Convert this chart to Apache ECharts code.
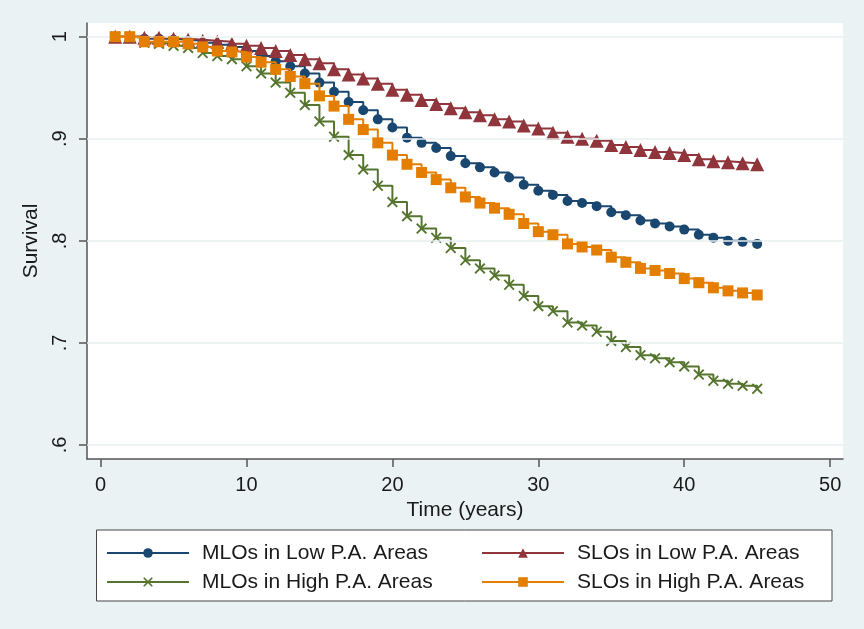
<!DOCTYPE html>
<html>
<head>
<meta charset="utf-8">
<script src="https://cdn.jsdelivr.net/npm/echarts@6/dist/echarts.min.js"></script>
<style>html,body{margin:0;padding:0;background:#eaf2f3}#c{width:864px;height:629px}</style>
</head>
<body>
<div id="c"></div>
<script>
const years = [1,2,3,4,5,6,7,8,9,10,11,12,13,14,15,16,17,18,19,20,21,22,23,24,25,26,27,28,29,30,31,32,33,34,35,36,37,38,39,40,41,42,43,44,45];
const mloLow = [1.000,1.000,0.998,0.998,0.997,0.996,0.994,0.992,0.990,0.986,0.981,0.976,0.971,0.964,0.955,0.946,0.936,0.928,0.919,0.911,0.901,0.896,0.891,0.883,0.876,0.872,0.867,0.862,0.855,0.849,0.845,0.839,0.837,0.834,0.828,0.825,0.820,0.817,0.814,0.811,0.806,0.803,0.800,0.799,0.797];
const sloLow = [1.000,1.000,0.999,0.999,0.998,0.997,0.996,0.995,0.993,0.991,0.989,0.986,0.982,0.978,0.974,0.968,0.963,0.959,0.954,0.948,0.943,0.938,0.934,0.930,0.926,0.923,0.919,0.917,0.913,0.910,0.906,0.902,0.900,0.898,0.894,0.892,0.889,0.887,0.886,0.884,0.880,0.878,0.877,0.876,0.875];
const mloHigh = [1.000,0.999,0.994,0.993,0.991,0.989,0.984,0.981,0.978,0.971,0.964,0.955,0.945,0.933,0.917,0.902,0.884,0.870,0.854,0.838,0.824,0.812,0.803,0.793,0.781,0.773,0.766,0.757,0.746,0.736,0.731,0.720,0.717,0.711,0.702,0.696,0.688,0.685,0.681,0.677,0.669,0.663,0.660,0.658,0.655];
const sloHigh = [1.000,1.000,0.995,0.995,0.995,0.993,0.990,0.986,0.985,0.980,0.975,0.968,0.961,0.954,0.942,0.932,0.919,0.909,0.896,0.884,0.875,0.867,0.860,0.852,0.843,0.837,0.832,0.826,0.817,0.809,0.806,0.797,0.794,0.791,0.784,0.779,0.773,0.771,0.768,0.763,0.759,0.754,0.751,0.749,0.747];
const xTicks = [0,10,20,30,40,50];
const yTicks = [0.6,0.7,0.8,0.9,1];
const yTickLabels = ['.6','.7','.8','.9','1'];
const names = ['MLOs in Low P.A. Areas','SLOs in Low P.A. Areas','MLOs in High P.A. Areas','SLOs in High P.A. Areas'];

const FONT = '"Liberation Sans", Arial, sans-serif';
const pair = arr => years.map((t,i)=>[t,arr[i]]);
const xSym = 'path://M0,1.2 L1.2,0 L5,3.8 L8.8,0 L10,1.2 L6.2,5 L10,8.8 L8.8,10 L5,6.2 L1.2,10 L0,8.8 L3.8,5 Z';

const chart = echarts.init(document.getElementById('c'), null, {renderer:'canvas'});
function mk(name, data, color, symbol, size, z){
  return {name, type:'line', data:pair(data), step:'end', symbol, symbolSize:size,
    showAllSymbol:true, z, lineStyle:{color, width:2}, itemStyle:{color},
    emphasis:{disabled:true}, animation:false};
}
chart.setOption({
  backgroundColor:'#eaf2f3',
  animation:false,
  textStyle:{fontFamily:FONT},
  grid:{left:87, right:21, top:23, bottom:170, show:true, backgroundColor:'#ffffff', borderWidth:0},
  xAxis:{type:'value', min:-0.93, max:50.88,
    axisLine:{show:true, onZero:false, lineStyle:{color:'#555', width:1.5}},
    axisTick:{show:true, length:8, lineStyle:{color:'#555', width:1.5}, customValues:xTicks},
    axisLabel:{customValues:xTicks, fontSize:20, color:'#1a1a1a', margin:16, fontFamily:FONT},
    splitLine:{show:false},
    name:'Time (years)', nameLocation:'middle', nameGap:35,
    nameTextStyle:{fontSize:21, color:'#1a1a1a', fontFamily:FONT}},
  yAxis:{type:'value', min:0.5863, max:1.0134,
    axisLine:{show:true, onZero:false, lineStyle:{color:'#555', width:1.5}},
    axisTick:{show:true, length:8, lineStyle:{color:'#555', width:1.5}, customValues:yTicks},
    axisLabel:{customValues:yTicks, rotate:90, fontSize:20, color:'#1a1a1a', margin:17, fontFamily:FONT,
      formatter:v=>{const i=yTicks.findIndex(t=>Math.abs(t-v)<1e-6);return i>=0?yTickLabels[i]:'';}},
    splitLine:{show:false},
    name:'Survival', nameLocation:'middle', nameGap:36,
    nameTextStyle:{fontSize:21, color:'#1a1a1a', fontFamily:FONT}},
  legend:[
    {data:[names[0],names[2]], orient:'vertical', left:101, top:537, itemWidth:82, itemHeight:12, itemGap:7,
     textStyle:{fontSize:21, color:'#1a1a1a', lineHeight:22, fontFamily:FONT, padding:[0,0,0,8]}, z:10, selectedMode:false},
    {data:[names[1],names[3]], orient:'vertical', left:476, top:537, itemWidth:82, itemHeight:12, itemGap:7,
     textStyle:{fontSize:21, color:'#1a1a1a', lineHeight:22, fontFamily:FONT, padding:[0,0,0,8]}, z:10, selectedMode:false}
  ],
  graphic:[{type:'rect', z:1, shape:{x:96.5, y:530, width:735.5, height:71},
    style:{fill:'#ffffff', stroke:'#444', lineWidth:1}}],
  series:[
    {name:'grid', type:'line', data:[], silent:true, z:1,
     markLine:{silent:true, symbol:'none', label:{show:false}, animation:false,
       lineStyle:{color:'#e9eff1', width:1.5, type:'solid'},
       data:yTicks.map(v=>({yAxis:v}))}},
    mk(names[0], mloLow, '#1a476f', 'circle', 10, 2),
    mk(names[1], sloLow, '#90353b', 'triangle', 14, 3),
    mk(names[2], mloHigh, '#55752f', xSym, 11, 4),
    mk(names[3], sloHigh, '#e37e00', 'rect', 11, 5)
  ]
});
</script>
</body>
</html>
